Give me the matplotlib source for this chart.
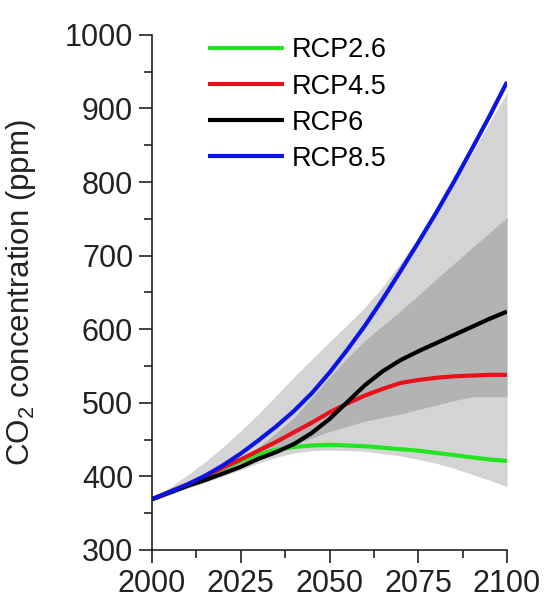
import numpy as np
import matplotlib.pyplot as plt
from matplotlib.ticker import MultipleLocator

plt.rcParams['font.family'] = ['Liberation Sans', 'DejaVu Sans']
plt.rcParams['mathtext.default'] = 'regular'

# years sampled every 5 years
years = [2000, 2005, 2010, 2015, 2020, 2025, 2030, 2035, 2040, 2045, 2050,
         2055, 2060, 2065, 2070, 2075, 2080, 2085, 2090, 2095, 2100]

rcp26 = [369, 379, 389, 400, 411, 421, 430, 436, 440, 442, 443,
         442, 441, 439, 437, 435, 432, 429, 426, 423, 421]
rcp45 = [369, 379, 389, 400, 412, 423, 435, 447, 460, 473, 487,
         499, 510, 519, 527, 531, 534, 536, 537, 538, 538]
rcp6 = [369, 378, 387, 395, 404, 413, 424, 433, 444, 459, 478,
        501, 524, 543, 558, 570, 581, 592, 603, 614, 624]
rcp85 = [369, 379, 389, 401, 415, 431, 449, 468, 489, 513, 541,
         572, 605, 641, 679, 718, 758, 800, 844, 889, 936]

# uncertainty envelopes
outer_hi = [370, 385, 402, 420, 440, 462, 485, 510, 535, 559, 583,
            606, 630, 658, 690, 724, 760, 798, 838, 880, 922]
outer_lo = [366, 375, 384, 392, 400, 409, 418, 426, 432, 435, 436,
            435, 434, 431, 428, 423, 418, 411, 403, 395, 386]
inner_hi = [369, 378, 388, 399, 410, 424, 440, 459, 480, 507, 535,
            561, 585, 605, 625, 646, 668, 689, 710, 731, 752]
inner_lo = [369, 378, 387, 395, 404, 413, 422, 432, 442, 452, 461,
            468, 475, 480, 485, 491, 497, 503, 508, 508, 508]

labels = ['RCP2.6', 'RCP4.5', 'RCP6', 'RCP8.5']
colors = ['#22e622', '#e8101a', '#000000', '#0a14e6']

fig = plt.figure(figsize=(5.44, 6.01), dpi=100)
ax = fig.add_axes([0.2794, 0.0849, 0.6526, 0.857])

ax.fill_between(years, outer_lo, outer_hi, color='#d4d4d4', lw=0)
ax.fill_between(years, inner_lo, inner_hi, color='#b3b3b3', lw=0)

for series, lab, col in zip([rcp26, rcp45, rcp6, rcp85], labels, colors):
    ax.plot(years, series, color=col, lw=3, label=lab, solid_capstyle='butt')

ax.set_xlim(2000, 2100)
ax.set_ylim(300, 1000)
ax.xaxis.set_major_locator(MultipleLocator(25))
ax.xaxis.set_minor_locator(MultipleLocator(12.5))
ax.yaxis.set_major_locator(MultipleLocator(100))
ax.yaxis.set_minor_locator(MultipleLocator(50))

for side in ['top', 'right']:
    ax.spines[side].set_visible(False)
for side in ['left', 'bottom']:
    ax.spines[side].set_linewidth(1.2)
    ax.spines[side].set_color('#222222')

ax.tick_params(which='major', direction='out', length=9.5, width=1.2,
               labelsize=22, color='#222222', labelcolor='#222222', pad=4)
ax.tick_params(which='minor', direction='out', length=5.5, width=1.2, color='#222222')

ax.set_ylabel('CO$_2$ concentration (ppm)', fontsize=22.5, color='#222222')
ax.yaxis.set_label_coords(-0.321, 0.5)

ax.legend(loc='upper left', bbox_to_anchor=(0.158, 0.995), frameon=False,
          fontsize=19.5, handlelength=2.8, handletextpad=0.3,
          labelspacing=0.37, borderpad=0, borderaxespad=0)

plt.savefig('out.png', dpi=100)
